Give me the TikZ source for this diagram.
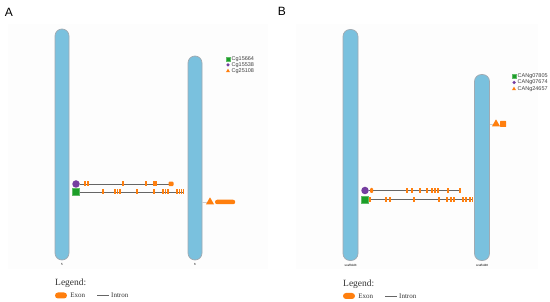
\documentclass[tikz,border=0pt]{standalone}
\usepackage{fontspec}
\setmainfont{Liberation Serif}
\setsansfont{Liberation Sans}
\usetikzlibrary{positioning, shapes.geometric}
\definecolor{chromfill}{RGB}{122, 193, 222}
\definecolor{chromline}{RGB}{160, 170, 178}
\definecolor{exonorange}{RGB}{255, 127, 14}
\definecolor{genegreen}{RGB}{28, 158, 40}
\definecolor{genepurple}{RGB}{117, 62, 160}

\tikzset{
  chrom/.style={draw=chromline, fill=chromfill, line width=0.7pt, rounded corners=7pt, minimum width=14pt, inner sep=0pt},
  chrlab/.style={font=\sffamily\fontsize{3}{3}\selectfont, inner sep=1pt},
  panel/.style={font=\sffamily\fontsize{12}{12}\selectfont},
  intron/.style={draw=gray!80!black, line width=0.9pt},
  stub/.style={draw=gray!40, line width=0.4pt},
  sqmark/.style={rectangle, fill=genegreen, draw=genegreen!70!white, minimum size=7pt, inner sep=0pt},
  cimark/.style={circle, fill=genepurple, minimum size=7.5pt, inner sep=0pt},
  trimark/.style={isosceles triangle, isosceles triangle apex angle=60, shape border rotate=90, fill=exonorange, minimum size=7pt, inner sep=0pt},
  exonbox/.style={rectangle, fill=exonorange, rounded corners=2pt, inner sep=0pt},
  keytext/.style={font=\sffamily\fontsize{5.5}{5.5}\selectfont, text=black!75, anchor=west, inner sep=0.5pt},
  legtitle/.style={font=\rmfamily\fontsize{9.5}{9.5}\selectfont, text=black!80, anchor=west, inner sep=0pt},
  legtext/.style={font=\rmfamily\fontsize{7}{7}\selectfont, text=black!80, anchor=west, inner sep=0pt}
}

\begin{document}
\begin{tikzpicture}[x=1pt, y=-1pt]
  \useasboundingbox (0,0) rectangle (550,302);
  % faint plotting areas
  \fill[black!0.8] (8,24) rectangle (268,269);
  \fill[black!0.8] (296,24) rectangle (538,269);

  % ---------------- panel A ----------------
  \node[panel] (labA) at (9,12) {A};
  \node[chrom, minimum height=231pt] (chrA1) at (62,144.5) {};
  \node[chrlab, below=2pt of chrA1] (chrA1lab) {5};
  \node[chrom, minimum height=204pt] (chrA2) at (195,158) {};
  \node[chrlab, below=2pt of chrA2] (chrA2lab) {6};

  % key
  \node[sqmark, minimum size=3.5pt] (keyA1) at (228,59) {};
  \node[keytext] at (231,59) {Cg15664};
  \node[cimark, minimum size=3.5pt] (keyA2) at (228,65) {};
  \node[keytext] at (231,65) {Cg15538};
  \node[trimark, minimum size=3.5pt] (keyA3) at (228,71) {};
  \node[keytext] at (231,71) {Cg25108};

  % genes
  \node[cimark] (gA1) at (76,184) {};
  \coordinate (gA1end) at (171,184);
  \draw[intron] (gA1.east) -- (gA1end);
  \foreach \x in {85,88,123,146,154,156}
    \fill[exonorange] (\x-0.65,181.5) rectangle (\x+0.65,186.5);
  \node[exonbox, minimum width=5pt, minimum height=4.5pt, rounded corners=1pt] (exA1) at (171,184) {};

  \node[sqmark] (gA2) at (76,192) {};
  \coordinate (gA2end) at (184,192);
  \draw[intron] (gA2.east) -- (gA2end);
  \foreach \x in {103,115,117.5,120,137,154,163,165.5,168,177,179.5,181.5,183.5}
    \fill[exonorange] (\x-0.6,189.5) rectangle (\x+0.6,194.5);

  \node[trimark] (gA3) at (210,202) {};
  \draw[stub] (chrA2.east |- gA3) -- (gA3.west);
  \node[exonbox, minimum width=20pt, minimum height=4.5pt, right=2pt of gA3] (exA3) {};

  % legend
  \node[legtitle] (legA) at (55,283) {Legend:};
  \node[exonbox, minimum width=12pt, minimum height=6pt, rounded corners=3pt] (keyExA) at (61,295.5) {};
  \node[legtext, right=3pt of keyExA] (txtExA) {Exon};
  \coordinate (inA) at (97,295.5);
  \node[legtext] (txtInA) at (111,295.5) {Intron};
  \draw[intron, line width=0.8pt] (inA) -- ([xshift=-2pt]txtInA.west);

  % ---------------- panel B ----------------
  \node[panel] (labB) at (282,11) {B};
  \node[chrom, minimum height=231pt, minimum width=15pt] (chrB1) at (350.5,145) {};
  \node[chrlab, below=2pt of chrB1] (chrB1lab) {scaffold3};
  \node[chrom, minimum height=186pt, minimum width=15pt] (chrB2) at (482,167.5) {};
  \node[chrlab, below=2pt of chrB2] (chrB2lab) {scaffold8};

  % key
  \node[sqmark, minimum size=3.5pt] (keyB1) at (514,76) {};
  \node[keytext] at (517,76) {CANg07805};
  \node[cimark, minimum size=3.5pt] (keyB2) at (514,82.5) {};
  \node[keytext] at (517,82.5) {CANg07674};
  \node[trimark, minimum size=3.5pt] (keyB3) at (514,89) {};
  \node[keytext] at (517,89) {CANg24657};

  % genes
  \node[cimark] (gB1) at (365,190.5) {};
  \coordinate (gB1end) at (460,190.5);
  \draw[intron] (gB1.east) -- (gB1end);
  \node[exonbox, minimum width=3pt, minimum height=5pt, rounded corners=1pt] (exB1) at (371.5,190.5) {};
  \foreach \x in {407,412,420,427,432,435,438,448,460}
    \fill[exonorange] (\x-0.75,188) rectangle (\x+0.75,193);

  \node[sqmark] (gB2) at (365,199.5) {};
  \coordinate (gB2end) at (473,199.5);
  \draw[intron] (gB2.east) -- (gB2end);
  \foreach \x in {370,386,390,414,439,447,451,454,463,466,470,472.5}
    \fill[exonorange] (\x-0.6,197) rectangle (\x+0.6,202);

  \node[trimark] (gB3) at (496,124) {};
  \draw[stub] (chrB2.east |- gB3) -- (gB3.west);
  \node[exonbox, minimum width=6pt, minimum height=6pt, rounded corners=0.5pt, right=1pt of gB3] (exB3) {};

  % legend
  \node[legtitle] (legB) at (343,284) {Legend:};
  \node[exonbox, minimum width=12pt, minimum height=6pt, rounded corners=3pt] (keyExB) at (349,296) {};
  \node[legtext, right=3pt of keyExB] (txtExB) {Exon};
  \coordinate (inB) at (385,296);
  \node[legtext] (txtInB) at (399,296) {Intron};
  \draw[intron, line width=0.8pt] (inB) -- ([xshift=-2pt]txtInB.west);
\end{tikzpicture}
\end{document}
